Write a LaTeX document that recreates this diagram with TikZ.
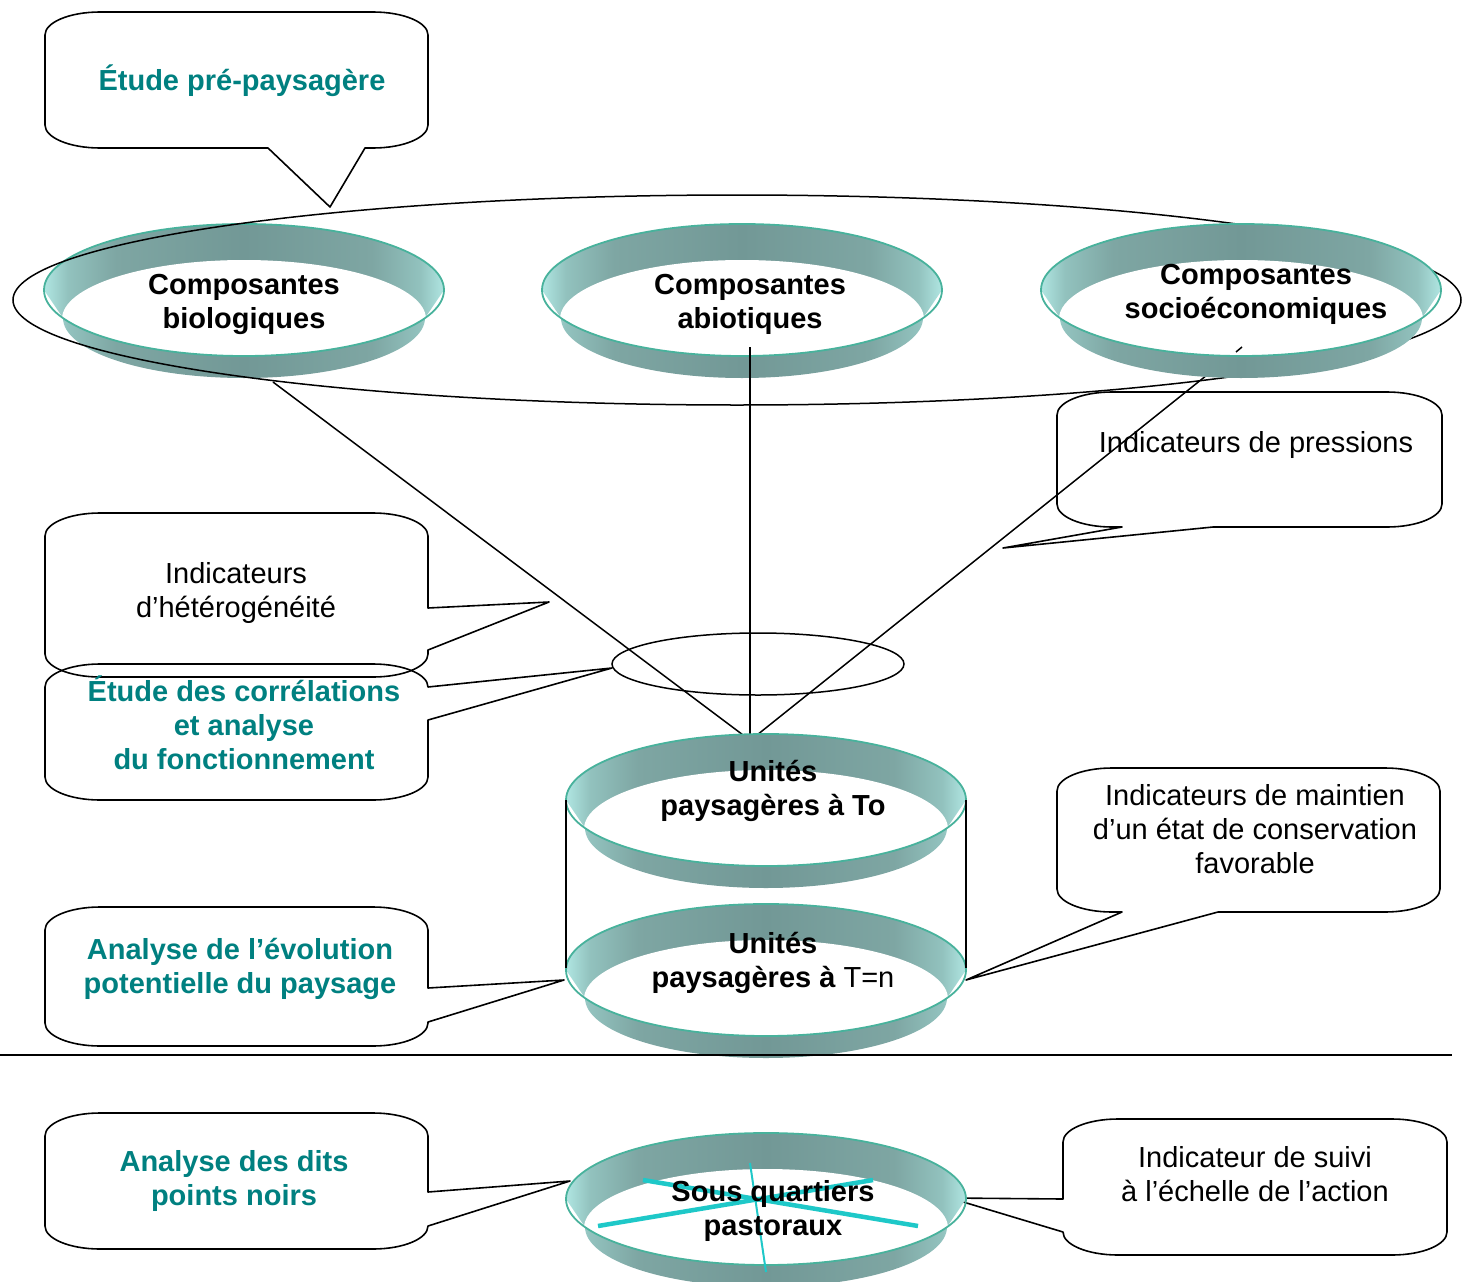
\documentclass[tikz,border=0pt]{standalone}
\usepackage{fontspec}
\setmainfont{Liberation Sans}
\definecolor{tealtxt}{RGB}{0,128,128}
\definecolor{ringlight}{RGB}{176,230,226}
\definecolor{ringmid}{RGB}{146,194,190}
\definecolor{ringmid2}{RGB}{126,166,163}
\definecolor{ringdark}{RGB}{114,152,150}
\definecolor{rimcol}{RGB}{72,178,156}
\definecolor{cyanline}{RGB}{30,200,200}
\pgfdeclarehorizontalshading{ringshade}{100bp}{color(0bp)=(ringlight); color(25bp)=(ringlight); color(28bp)=(ringmid); color(34bp)=(ringmid2); color(50bp)=(ringdark); color(66bp)=(ringmid2); color(72bp)=(ringmid); color(75bp)=(ringlight); color(100bp)=(ringlight)}
\tikzset{
 conn/.style={line width=1.5pt, black},
 callout/.style={line width=1.6pt, black, line join=round},
 rimline/.style={line width=1.8pt, rimcol},
 ringfill/.style={shading=ringshade},
 ringtext/.style={font=\fontsize{29}{34}\selectfont\bfseries, align=center, inner sep=0pt},
 tealtext/.style={font=\fontsize{29}{34}\selectfont\bfseries, text=tealtxt, align=center, inner sep=0pt},
 plaintext/.style={font=\fontsize{29}{34}\selectfont, align=center, inner sep=0pt},
}
% ring: #1 cx, #2 cy
\newcommand\ringshape[2]{%
 \path[ringfill] (#1-200,#2) .. controls (#1-200,#2-36.45) and (#1-110.46,#2-66) .. (#1,#2-66)
   .. controls (#1+110.46,#2-66) and (#1+200,#2-36.45) .. (#1+200,#2)
   -- (#1+181,#2+28) .. controls (#1+181,#2+61.1) and (#1+99.97,#2+88) .. (#1,#2+88)
   .. controls (#1-99.97,#2+88) and (#1-181,#2+61.1) .. (#1-181,#2+28) -- cycle;
 \begin{scope}
  \clip (#1,#2) ellipse[x radius=200,y radius=66];
  \fill[white] (#1,#2+29) ellipse[x radius=182,y radius=59];
 \end{scope}
 \draw[rimline] (#1,#2) ellipse[x radius=200,y radius=66];
}
% callout with pointer on bottom: x1 y1 x2 y2 xa xb tip
\newcommand\calloutB[7]{%
 \draw[callout] (#1+55,#2) -- (#3-55,#2) .. controls (#3-24.6,#2) and (#3,#2+10.3) .. (#3,#2+23)
  -- (#3,#4-23) .. controls (#3,#4-10.3) and (#3-24.6,#4) .. (#3-55,#4)
  -- (#6,#4) -- (#7) -- (#5,#4)
  -- (#1+55,#4) .. controls (#1+24.6,#4) and (#1,#4-10.3) .. (#1,#4-23)
  -- (#1,#2+23) .. controls (#1,#2+10.3) and (#1+24.6,#2) .. (#1+55,#2) -- cycle;
}
% pointer on right side: x1 y1 x2 y2 ya yb tip
\newcommand\calloutR[7]{%
 \draw[callout] (#1+55,#2) -- (#3-55,#2) .. controls (#3-24.6,#2) and (#3,#2+10.3) .. (#3,#2+23)
  -- (#3,#5) -- (#7) -- (#3,#6)
  -- (#3,#4-23) .. controls (#3,#4-10.3) and (#3-24.6,#4) .. (#3-55,#4)
  -- (#1+55,#4) .. controls (#1+24.6,#4) and (#1,#4-10.3) .. (#1,#4-23)
  -- (#1,#2+23) .. controls (#1,#2+10.3) and (#1+24.6,#2) .. (#1+55,#2) -- cycle;
}
% pointer on left side: x1 y1 x2 y2 ya yb tip
\newcommand\calloutL[7]{%
 \draw[callout] (#1+55,#2) -- (#3-55,#2) .. controls (#3-24.6,#2) and (#3,#2+10.3) .. (#3,#2+23)
  -- (#3,#4-23) .. controls (#3,#4-10.3) and (#3-24.6,#4) .. (#3-55,#4)
  -- (#1+55,#4) .. controls (#1+24.6,#4) and (#1,#4-10.3) .. (#1,#4-23)
  -- (#1,#6) -- (#7) -- (#1,#5)
  -- (#1,#2+23) .. controls (#1,#2+10.3) and (#1+24.6,#2) .. (#1+55,#2) -- cycle;
}
\begin{document}
\begin{tikzpicture}[x=1pt,y=-1pt]
\useasboundingbox (0,0) rectangle (1462,1282);
% tips
\coordinate (tipA) at (330,207);
\coordinate (tipB) at (1003,548);
\coordinate (tipC) at (549,602);
\coordinate (tipD) at (612,668);
\coordinate (tipE) at (564,980);
\coordinate (tipF) at (570,1181);
\coordinate (tipG) at (966,980);
\coordinate (tipH) at (950,1198);
% callouts
\calloutB{45}{12}{428}{148}{268}{365}{tipA}
\calloutB{1057}{392}{1442}{527}{1122}{1213}{tipB}
\calloutR{45}{513}{428}{677}{608}{650}{tipC}
\calloutR{45}{664}{428}{800}{687}{720}{tipD}
\calloutR{45}{907}{428}{1046}{988}{1022}{tipE}
\calloutR{45}{1113}{428}{1249}{1192}{1226}{tipF}
\calloutB{1057}{768}{1440}{912}{1122}{1218}{tipG}
\calloutL{1063}{1119}{1447}{1255}{1199}{1232}{tipH}
% connection points
\coordinate (bioOut) at (273,382);
\coordinate (abioOut) at (750,347);
\coordinate (socOut) at (1242,347);
\coordinate (toInL) at (743,735);
\coordinate (toInM) at (750,735);
\coordinate (toInR) at (757,735);
% lines behind rings
\draw[conn] (bioOut) -- (toInL);
\draw[conn] (socOut) -- (toInR);
% top rings
\ringshape{244}{290}
\ringshape{742}{290}
% big ellipse
\draw[conn] (737,300) ellipse[x radius=724,y radius=105];
\ringshape{1241}{290}
\draw[conn] (abioOut) -- (toInM);
\draw[conn] (socOut) -- (1236,352);
% small ellipse
\draw[conn] (758,664) ellipse[x radius=146,y radius=31];
% unit rings
\ringshape{766}{800}
\ringshape{766}{970}
\coordinate (cylTL) at (566,800);
\coordinate (cylTR) at (966,800);
\coordinate (cylBL) at (566,968);
\coordinate (cylBR) at (966,968);
\draw[conn] (cylTL) -- (cylBL);
\draw[conn] (cylTR) -- (cylBR);
% bottom ring
\ringshape{766}{1199}
\draw[cyanline, line width=4.5pt] (643,1180) -- (918,1226);
\draw[cyanline, line width=4.5pt] (598,1226) -- (873,1180);
\draw[cyanline, line width=2pt] (750,1163) -- (766,1272);
% separator
\draw[line width=2pt] (0,1055) -- (1452,1055);
% ring texts
\node[ringtext] (bio) at (244,304) {Composantes\\biologiques};
\node[ringtext] (abio) at (750,304) {Composantes\\abiotiques};
\node[ringtext] (soc) at (1256,294) {Composantes\\socioéconomiques};
\node[ringtext] (uto) at (773,791) {Unités\\paysagères à To};
\node[ringtext] (utn) at (773,963) {Unités\\paysagères à \mdseries T=n};
\node[ringtext] (sqp) at (773,1211) {Sous quartiers\\pastoraux};
% callout texts
\node[tealtext] (pre) at (242,81) {Étude pré-paysagère};
\node[plaintext] (press) at (1256,445) {Indicateurs de pressions};
\node[plaintext] (hetero) at (236,593) {Indicateurs\\d’hétérogénéité};
\node[tealtext] (corr) at (244,723) {Étude des corrélations\\et analyse\\du fonctionnement};
\node[tealtext] (evol) at (240,969) {Analyse de l’évolution\\potentielle du paysage};
\node[tealtext] (noirs) at (234,1181) {Analyse des dits\\points noirs};
\node[plaintext] (maint) at (1255,829) {Indicateurs de maintien\\d’un état de conservation\\favorable};
\node[plaintext] (suivi) at (1255,1174) {Indicateur de suivi\\à l’échelle de l’action};
\end{tikzpicture}
\end{document}
